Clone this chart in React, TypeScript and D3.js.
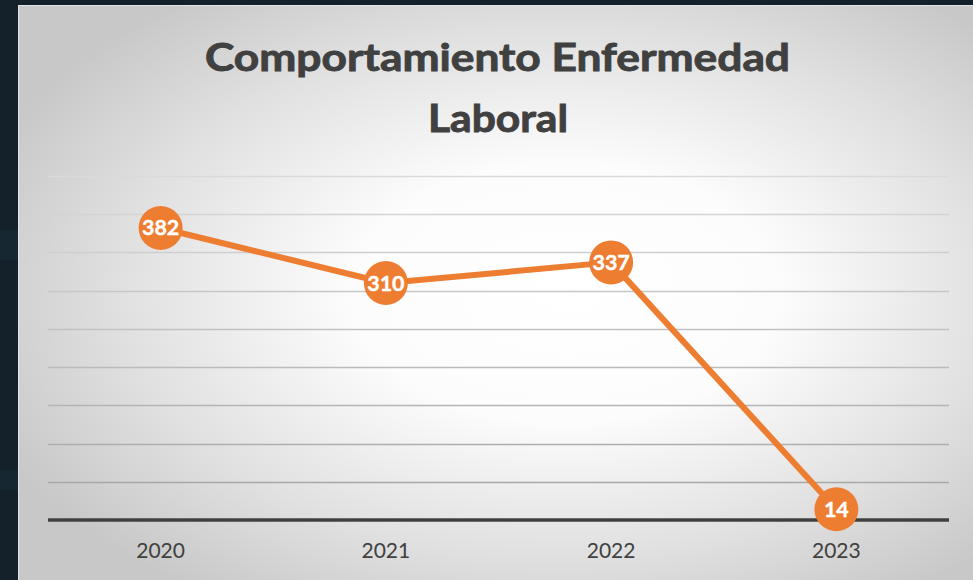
import React from "react";
import * as d3 from "d3";

const categories = ["2020", "2021", "2022", "2023"];
const values = [382, 310, 337, 14];
const yTicks = [0, 50, 100, 150, 200, 250, 300, 350, 400, 450];
const titleLines = ["Comportamiento Enfermedad", "Laboral"];

const W = 973;
const H = 580;

export default function App() {
  const x = d3.scaleBand<string>().domain(categories).range([48, 949]).padding(0);
  const y = d3.scaleLinear().domain([0, 450]).range([520, 176]);
  const cx = (c: string) => (x(c) as number) + x.bandwidth() / 2;
  const line = d3
    .line<number>()
    .x((_, i) => cx(categories[i]))
    .y((d) => y(d));
  const gridColor = d3.interpolateRgb("#dadada", "#a8a8a8");

  return (
    <svg
      width={W}
      height={H}
      style={{ position: "absolute", left: 0, top: 0, display: "block" }}
    >
      <defs>
        <radialGradient id="bg" cx="0.56" cy="0.5" r="0.64" fx="0.58" fy="0.5">
          <stop offset="0" stopColor="#ffffff" />
          <stop offset="0.35" stopColor="#fcfcfc" />
          <stop offset="0.72" stopColor="#e0e0e0" />
          <stop offset="1" stopColor="#c8c8c8" />
        </radialGradient>
      </defs>
      <rect x={0} y={0} width={W} height={H} fill="#14212b" />
      <rect x={0} y={230} width={18} height={30} fill="#1a2d3a" opacity={0.5} />
      <rect x={0} y={470} width={18} height={20} fill="#1a2d3a" opacity={0.5} />
      <rect x={18} y={5} width={W - 18} height={H - 5} fill="url(#bg)" />
      <line x1={18.5} y1={5} x2={18.5} y2={H} stroke="#e4e4e4" strokeWidth={1} />
      <line x1={18} y1={5.5} x2={W} y2={5.5} stroke="#e4e4e4" strokeWidth={1} />

      <g
        fontFamily="Lato, 'Open Sans', sans-serif"
        fontWeight="bold"
        fill="#404040"
        stroke="#404040"
        strokeWidth={0.9}
        textAnchor="middle"
      >
        <text x={497.5} y={71} fontSize={38} textLength={585} lengthAdjust="spacingAndGlyphs">
          {titleLines[0]}
        </text>
        <text x={498} y={132} fontSize={38} textLength={140} lengthAdjust="spacingAndGlyphs">
          {titleLines[1]}
        </text>
      </g>

      {yTicks.slice(1).map((t, i) => (
        <line
          key={t}
          x1={48}
          x2={949}
          y1={Math.round(y(t)) + 0.5}
          y2={Math.round(y(t)) + 0.5}
          stroke={gridColor(1 - i / (yTicks.length - 2))}
          strokeWidth={1.3}
        />
      ))}
      <line x1={48} x2={949} y1={y(0)} y2={y(0)} stroke="#404040" strokeWidth={3.5} />

      {categories.map((c) => (
        <text
          key={c}
          x={cx(c)}
          y={558}
          textAnchor="middle"
          fontFamily="Lato, 'Open Sans', sans-serif"
          fontSize={21}
          fill="#404040"
        >
          {c}
        </text>
      ))}

      <path d={line(values) || ""} fill="none" stroke="#ED7D31" strokeWidth={6} strokeLinejoin="round" />
      {values.map((v, i) => (
        <g key={categories[i]}>
          <circle cx={cx(categories[i])} cy={y(v)} r={22} fill="#ED7D31" />
          <text
            x={cx(categories[i])}
            y={y(v) + 7.5}
            textAnchor="middle"
            fontFamily="Lato, 'Open Sans', sans-serif"
            fontWeight="bold"
            fontSize={21.5}
            fill="#ffffff"
            stroke="#ffffff"
            strokeWidth={0.4}
          >
            {v}
          </text>
        </g>
      ))}
    </svg>
  );
}
